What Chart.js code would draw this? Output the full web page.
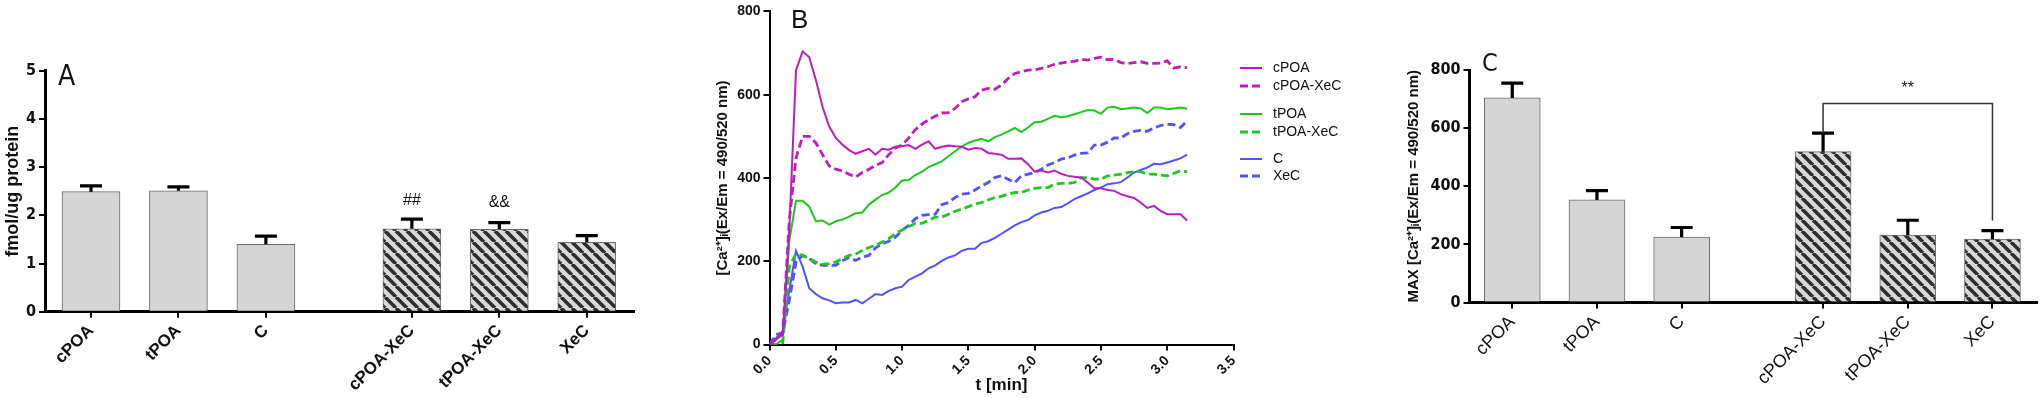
<!DOCTYPE html>
<html>
<head>
  <title>cPOA / tPOA / XeC</title>
  <script src="https://cdn.jsdelivr.net/npm/chart.js"></script>
  <style>
    body { margin: 0; background: #fff; width: 2040px; height: 398px; position: relative; overflow: hidden; }
    canvas { position: absolute; top: 0; }
  </style>
</head>
<body>
  <canvas id="chartA" width="640" height="398" style="left:0"></canvas>
  <canvas id="chartB" width="740" height="398" style="left:640px"></canvas>
  <canvas id="chartC" width="700" height="398" style="left:1340px"></canvas>

  <script>
    // groups shared by panels A and C (gap between the two sets of three)
    const groups = ["cPOA", "tPOA", "C", "cPOA-XeC", "tPOA-XeC", "XeC"];
    const groupPos = [0, 1, 2, 3.67, 4.67, 5.67];
    const hatched = [false, false, false, true, true, true];

    // panel A
    const proteinMean = [2.49, 2.51, 1.40, 1.72, 1.71, 1.44];
    const proteinSem = [0.12, 0.08, 0.17, 0.20, 0.14, 0.14];
    const proteinMarks = ["", "", "", "##", "&&", ""];
    const proteinMarkAt = [0, 0, 0, 2.21, 2.17, 0];

    // panel B
    const timeMin = [0.00, 0.05, 0.10, 0.15, 0.20, 0.25, 0.30, 0.35, 0.40, 0.45, 0.50, 0.55, 0.60, 0.65, 0.70, 0.75,
      0.80, 0.85, 0.90, 0.95, 1.00, 1.05, 1.10, 1.15, 1.20, 1.25, 1.30, 1.35, 1.40, 1.45, 1.50, 1.55,
      1.60, 1.65, 1.70, 1.75, 1.80, 1.85, 1.90, 1.95, 2.00, 2.05, 2.10, 2.15, 2.20, 2.25, 2.30, 2.35,
      2.40, 2.45, 2.50, 2.55, 2.60, 2.65, 2.70, 2.75, 2.80, 2.85, 2.90, 2.95, 3.00, 3.05, 3.10, 3.15];
    const caCPOA = [0, 12, 24, 280, 659, 704, 690, 635, 571, 524, 496, 480, 467, 458, 464, 470,
      456, 470, 468, 475, 476, 479, 470, 480, 488, 470, 475, 478, 476, 475, 468, 472,
      470, 460, 458, 456, 446, 446, 447, 433, 415, 418, 413, 418, 410, 405, 403, 401,
      389, 375, 375, 371, 369, 361, 356, 352, 341, 328, 333, 321, 313, 313, 313, 298];
    const caCPOAXeC = [0, 12, 28, 300, 448, 500, 500, 484, 456, 429, 421, 417, 409, 402, 413, 421,
      430, 437, 456, 472, 479, 496, 516, 529, 540, 548, 556, 557, 567, 583, 590, 595,
      611, 615, 613, 623, 639, 651, 655, 659, 660, 663, 667, 673, 676, 679, 680, 685,
      683, 687, 690, 684, 685, 677, 675, 677, 679, 675, 675, 676, 681, 664, 667, 665];
    const caTPOA = [0, 0, 12, 250, 345, 345, 331, 296, 298, 288, 296, 300, 307, 315, 317, 336,
      348, 359, 365, 377, 394, 395, 407, 415, 426, 433, 440, 452, 464, 475, 484, 490,
      494, 488, 498, 504, 512, 520, 510, 521, 534, 535, 542, 549, 546, 548, 553, 558,
      563, 562, 554, 569, 571, 565, 567, 569, 567, 556, 569, 569, 565, 567, 569, 566];
    const caTPOAXeC = [0, 0, 4, 187, 218, 214, 206, 198, 193, 194, 198, 206, 214, 217, 226, 233,
      238, 246, 254, 266, 275, 283, 291, 291, 298, 306, 306, 313, 320, 325, 331, 337,
      341, 347, 353, 356, 361, 365, 365, 371, 375, 377, 377, 385, 387, 387, 389, 401,
      401, 397, 397, 405, 407, 409, 413, 415, 415, 409, 409, 407, 405, 411, 417, 415];
    const caC = [0, 16, 32, 131, 225, 187, 135, 121, 111, 106, 99, 101, 101, 107, 99, 110,
      121, 119, 129, 135, 139, 155, 163, 171, 183, 190, 201, 209, 214, 225, 230, 230,
      244, 248, 256, 266, 276, 286, 294, 299, 310, 317, 321, 328, 330, 339, 349, 356,
      363, 371, 377, 385, 387, 390, 401, 413, 419, 425, 434, 433, 437, 442, 447, 456];
    const caXeC = [0, 24, 28, 107, 198, 214, 206, 194, 190, 190, 190, 201, 209, 202, 210, 214,
      232, 242, 248, 258, 274, 286, 302, 310, 312, 313, 336, 341, 353, 361, 363, 371,
      381, 389, 401, 405, 397, 389, 405, 409, 413, 421, 431, 437, 445, 448, 455, 459,
      460, 479, 479, 486, 496, 496, 506, 512, 514, 512, 520, 526, 529, 528, 521, 537];

    // panel C
    const maxMean = [704, 353, 225, 519, 232, 218];
    const maxSem = [51, 32, 33, 64, 51, 29];
    const sigPair = [3, 5];
    const sigLevel = 685;
    const sigLegEnds = [582, 282];
    const sigText = "**";

    const narrow = "'Liberation Sans Narrow', 'DejaVu Sans Condensed', Arial, sans-serif";
    const sans = "'Liberation Sans', Arial, sans-serif";

    function makeHatch() {
      const c = document.createElement("canvas");
      c.width = 11; c.height = 11;
      const g = c.getContext("2d");
      g.fillStyle = "#d9d9d9";
      g.fillRect(0, 0, 11, 11);
      g.strokeStyle = "#2e2e2e";
      g.lineWidth = 3.6;
      for (const k of [-11, 0, 11]) {
        g.beginPath(); g.moveTo(k, 0); g.lineTo(k + 11, 11); g.stroke();
      }
      return g.createPattern(c, "repeat");
    }
    const hatchFill = makeHatch();

    // error bars (one-sided, up) + free text for each bar panel
    function barExtras(mean, sem, capW, draw) {
      return {
        id: "barExtras",
        afterDatasetsDraw(chart) {
          const { ctx, scales: { x, y } } = chart;
          ctx.save();
          ctx.strokeStyle = "#000";
          ctx.lineWidth = 3.2;
          mean.forEach((m, i) => {
            const px = x.getPixelForValue(groupPos[i]);
            const y0 = y.getPixelForValue(m);
            const y1 = y.getPixelForValue(m + sem[i]);
            ctx.beginPath();
            ctx.moveTo(px, y0); ctx.lineTo(px, y1);
            ctx.moveTo(px - capW / 2, y1); ctx.lineTo(px + capW / 2, y1);
            ctx.stroke();
          });
          draw(ctx, x, y);
          ctx.restore();
        }
      };
    }

    function barPanel(id, o) {
      return new Chart(document.getElementById(id), {
        type: "bar",
        data: {
          datasets: [{
            data: groupPos.map((x, i) => ({ x: x, y: o.mean[i] })),
            backgroundColor: hatched.map(h => h ? hatchFill : "#d5d5d5"),
            borderColor: "#6b6b6b",
            borderWidth: 1,
            barThickness: o.barW
          }]
        },
        options: {
          responsive: false,
          animation: false,
          layout: { padding: { left: o.padL, top: o.padT, right: o.padR, bottom: 0 } },
          plugins: { legend: { display: false }, tooltip: { enabled: false } },
          scales: {
            x: {
              type: "linear", min: o.xmin, max: o.xmax, offset: false,
              afterBuildTicks: s => { s.ticks = groupPos.map(v => ({ value: v })); },
              afterFit: s => { s.height = o.xH; },
              grid: { display: true, offset: false, drawOnChartArea: false, tickLength: 6, color: "#000", lineWidth: 2 },
              border: { color: "#000", width: 3 },
              ticks: {
                autoSkip: false, minRotation: 45, maxRotation: 45, padding: 3,
                color: "#111", font: o.labelFont,
                callback: (v, i) => groups[i]
              }
            },
            y: {
              min: 0, max: o.ymax,
              afterFit: s => { s.width = o.yW; },
              grid: { display: true, drawOnChartArea: false, tickLength: 6, color: "#000", lineWidth: 2 },
              border: { color: "#000", width: 3 },
              ticks: { stepSize: o.step, padding: 3, color: "#111", font: { family: narrow, size: 16, weight: "bold" } },
              title: { display: true, text: o.title, color: "#111", padding: 0, font: { family: sans, size: o.titleSize, weight: "bold" } }
            }
          }
        },
        plugins: [barExtras(o.mean, o.sem, 22, o.draw)]
      });
    }

    // Panel A
    barPanel("chartA", {
      mean: proteinMean, sem: proteinSem, barW: 58,
      xmin: -0.526, xmax: 6.21, ymax: 5, step: 1,
      padL: 2, padT: 70.7, padR: 6, yW: 43, xH: 86.3,
      title: "fmol/ug protein", titleSize: 18,
      labelFont: { family: sans, size: 17, weight: "bold" },
      draw(ctx, x, y) {
        ctx.fillStyle = "#111";
        ctx.font = "28px " + narrow;
        ctx.textAlign = "left"; ctx.textBaseline = "alphabetic";
        ctx.fillText("A", 58, 85);
        ctx.font = "16px " + sans;
        ctx.textAlign = "center";
        proteinMarks.forEach((t, i) => {
          if (t) ctx.fillText(t, x.getPixelForValue(groupPos[i]), y.getPixelForValue(proteinMarkAt[i]));
        });
      }
    });

    // Panel C
    barPanel("chartC", {
      mean: maxMean, sem: maxSem, barW: 56,
      xmin: -0.505, xmax: 6.19, ymax: 800, step: 200,
      padL: 65, padT: 70, padR: 3.5, yW: 64.5, xH: 95.5,
      title: "MAX [Ca²⁺]ᵢ(Ex/Em = 490/520 nm)", titleSize: 15,
      labelFont: { family: sans, size: 18 },
      draw(ctx, x, y) {
        ctx.fillStyle = "#111";
        ctx.font = "25px " + narrow;
        ctx.textAlign = "left"; ctx.textBaseline = "alphabetic";
        ctx.fillText("C", 142, 70.5);
        const xa = x.getPixelForValue(groupPos[sigPair[0]]);
        const xb = x.getPixelForValue(groupPos[sigPair[1]]);
        const yl = y.getPixelForValue(sigLevel);
        ctx.strokeStyle = "#333";
        ctx.lineWidth = 1.5;
        ctx.beginPath();
        ctx.moveTo(xa, y.getPixelForValue(sigLegEnds[0]));
        ctx.lineTo(xa, yl); ctx.lineTo(xb, yl);
        ctx.lineTo(xb, y.getPixelForValue(sigLegEnds[1]));
        ctx.stroke();
        ctx.font = "16px " + sans;
        ctx.textAlign = "center";
        ctx.fillText(sigText, (xa + xb) / 2, yl - 10);
      }
    });

    // Panel B
    const magenta = "#bf1cbf", green = "#1ec81e", blue = "#5252ff";
    const seriesB = [
      { label: "cPOA", values: caCPOA, color: magenta, dashed: false },
      { label: "cPOA-XeC", values: caCPOAXeC, color: magenta, dashed: true },
      { label: "tPOA", values: caTPOA, color: green, dashed: false },
      { label: "tPOA-XeC", values: caTPOAXeC, color: green, dashed: true },
      { label: "C", values: caC, color: blue, dashed: false },
      { label: "XeC", values: caXeC, color: blue, dashed: true }
    ];
    const legendRowY = [68, 86, 114, 132, 159, 176];

    const legendB = {
      id: "legendB",
      afterDraw(chart) {
        const ctx = chart.ctx;
        ctx.save();
        ctx.font = "14px " + sans;
        ctx.textBaseline = "middle";
        ctx.fillStyle = "#111";
        chart.data.datasets.forEach((ds, i) => {
          const yy = legendRowY[i];
          ctx.strokeStyle = ds.borderColor;
          ctx.lineWidth = ds.borderWidth;
          ctx.setLineDash(ds.borderDash || []);
          ctx.beginPath(); ctx.moveTo(600, yy); ctx.lineTo(622, yy); ctx.stroke();
          ctx.setLineDash([]);
          ctx.fillText(ds.label, 633, yy);
        });
        ctx.font = "26px " + sans;
        ctx.textBaseline = "alphabetic";
        ctx.fillText("B", 151, 27.5);
        ctx.restore();
      }
    };

    new Chart(document.getElementById("chartB"), {
      type: "line",
      data: {
        datasets: seriesB.map(s => ({
          label: s.label,
          data: timeMin.map((t, i) => ({ x: t, y: s.values[i] })),
          borderColor: s.color,
          borderWidth: s.dashed ? 2.8 : 2,
          borderDash: s.dashed ? [8, 4] : [],
          pointRadius: 0,
          tension: 0,
          fill: false
        }))
      },
      options: {
        responsive: false,
        animation: false,
        layout: { padding: { left: 73.5, top: 8.3, right: 146.5, bottom: 2 } },
        plugins: { legend: { display: false }, tooltip: { enabled: false } },
        scales: {
          x: {
            type: "linear", min: 0, max: 3.5,
            afterFit: s => { s.height = 51.5; },
            grid: { display: true, drawOnChartArea: false, tickLength: 6, color: "#000", lineWidth: 2 },
            border: { color: "#000", width: 2 },
            ticks: {
              stepSize: 0.5, minRotation: 45, maxRotation: 45, padding: 2,
              color: "#111", font: { family: sans, size: 14, weight: "bold" },
              callback: v => v.toFixed(1)
            },
            title: { display: true, text: "t [min]", color: "#111", padding: 0, font: { family: sans, size: 17, weight: "bold" } }
          },
          y: {
            min: 0, max: 800,
            afterFit: s => { s.width = 56; },
            grid: { display: true, drawOnChartArea: false, tickLength: 6, color: "#000", lineWidth: 2 },
            border: { color: "#000", width: 2 },
            ticks: { stepSize: 200, padding: 3, color: "#111", font: { family: sans, size: 14, weight: "bold" } },
            title: { display: true, text: "[Ca²⁺]ᵢ(Ex/Em = 490/520 nm)", color: "#111", padding: 0, font: { family: sans, size: 15, weight: "bold" } }
          }
        }
      },
      plugins: [legendB]
    });
  </script>
</body>
</html>
